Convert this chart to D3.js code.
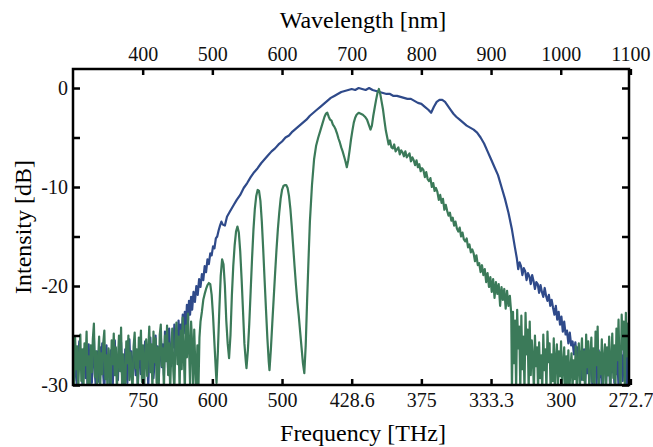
<!DOCTYPE html>
<html>
<head>
<meta charset="utf-8">
<script src="https://cdn.jsdelivr.net/npm/d3@7"></script>
<style>
  body { margin: 0; background: #fff; }
</style>
</head>
<body>
<div id="chart"></div>
<script>

var chartFont = "'Liberation Serif', serif";

// top axis ticks (wavelength, nm) and the matching frequency labels on the bottom
var wavelengthTicks = [400, 500, 600, 700, 800, 900, 1000, 1100];
var frequencyLabels = ["750", "600", "500", "428.6", "375", "333.3", "300", "272.7"];
var intensityTicks = [0, -5, -10, -15, -20, -25, -30];

// broad spectrum (blue), [wavelength nm, intensity dB]
var blueSpectrum = [
    [300,-27.2],[301.5,-29.6],[303,-26.0],[304.5,-28.8],[306,-30.5],[307.5,-27.4],[309,-25.6],[310.5,-28.2],
    [312,-26.7],[313.5,-30.0],[315,-27.8],[316.5,-26.3],[318,-29.3],[319.5,-27.0],[321,-30.5],[322.5,-25.9],
    [324,-28.5],[325.5,-26.8],[327,-29.8],[328.5,-27.5],[330,-25.1],[331.5,-28.9],[333,-30.4],[334.5,-26.6],
    [336,-28.0],[337.5,-29.7],[339,-26.2],[340.5,-27.9],[342,-25.8],[343.5,-29.1],[345,-30.5],[346.5,-27.2],
    [348,-26.0],[349.5,-28.6],[351,-27.1],[352.5,-29.9],[354,-26.5],[355.5,-28.3],[357,-30.2],[358.5,-26.9],
    [360,-25.5],[361.5,-28.7],[363,-27.3],[364.5,-29.5],[366,-26.1],[367.5,-28.4],[369,-25.7],[370.5,-29.2],
    [372,-27.6],[373.5,-30.5],[375,-26.4],[376.5,-28.1],[378,-29.8],[379.5,-27.0],[381,-25.4],[382.5,-28.5],
    [384,-26.6],[385.5,-29.4],[387,-27.7],[388.5,-25.9],[390,-29.0],[391.5,-26.8],[393,-30.3],[394.5,-27.4],
    [396,-25.3],[397.5,-28.9],[399,-26.2],[400.5,-29.6],[402,-27.5],[403.5,-25.6],[405,-28.3],[406.5,-26.9],
    [408,-30.1],[409.5,-27.1],[411,-25.2],[412.5,-28.6],[414,-26.4],[415.5,-29.3],[417,-27.8],[418.5,-25.0],
    [420,-28.0],[421.5,-26.1],[423,-29.5],[424.5,-26.7],[426,-24.8],[427.5,-28.2],[429,-25.9],[430.5,-29.0],
    [432,-24.6],[433.5,-27.3],[435,-25.5],[436.5,-28.4],[438,-24.3],[439.5,-26.9],[441,-28.1],[442.5,-24.9],
    [444,-26.2],[445.5,-23.9],[447,-27.0],[448.5,-24.5],[450,-25.8],[451.5,-23.5],[453,-26.4],[454.5,-23.9],
    [456,-25.2],[457.5,-22.9],[459,-24.8],[460.5,-22.6],[462,-24.1],[463.5,-21.9],[465,-23.6],[466.5,-21.5],
    [468,-22.9],[469.5,-21.1],[471,-22.4],[473,-20.6],[475,-21.6],[477,-20.0],[479,-20.9],[481,-19.3],
    [483,-20.1],[485,-18.8],[487,-19.4],[489,-18.0],[491,-18.6],[493,-17.3],[495,-17.8],[497,-16.7],
    [499,-16.9],[501,-16.0],[503,-16.2],[505,-15.2],[507,-15.0],[509,-14.4],[511,-13.9],[513,-13.5],
    [515,-13.8],[518,-13.9],[521,-13.0],[525,-12.5],[530,-11.9],[535,-11.3],[540,-10.8],[545,-10.1],
    [550,-9.6],[555,-9.0],[560,-8.5],[565,-8.1],[570,-7.6],[575,-7.2],[580,-6.8],[585,-6.4],
    [590,-6.1],[595,-5.7],[600,-5.4],[605,-5.0],[610,-4.8],[615,-4.4],[620,-4.1],[625,-3.8],
    [630,-3.5],[635,-3.2],[640,-2.8],[645,-2.5],[650,-2.2],[655,-1.9],[660,-1.6],[665,-1.3],
    [670,-1.0],[675,-0.8],[680,-0.6],[685,-0.4],[690,-0.3],[695,-0.2],[700,-0.1],[705,-0.2],
    [710,0.0],[715,-0.1],[720,-0.2],[725,0.0],[730,-0.2],[735,-0.3],[740,-0.4],[745,-0.5],
    [750,-0.6],[755,-0.6],[760,-0.8],[765,-0.8],[770,-0.9],[775,-1.0],[780,-1.1],[785,-1.1],
    [790,-1.3],[795,-1.5],[800,-1.6],[805,-1.9],[810,-2.2],[814,-2.5],[818,-1.9],[822,-1.4],
    [826,-1.2],[830,-1.2],[834,-1.4],[838,-1.8],[842,-2.2],[846,-2.6],[850,-2.9],[855,-3.2],
    [860,-3.5],[865,-3.8],[870,-4.0],[875,-4.2],[880,-4.5],[885,-5.0],[890,-5.6],[895,-6.4],
    [900,-7.2],[905,-8.0],[910,-8.8],[915,-10.0],[920,-11.2],[925,-12.6],[930,-14.3],[934,-16.0],
    [937,-17.2],[939,-18.3],[941,-17.6],[943,-18.0],[945,-18.9],[947,-18.2],[949,-18.5],[951,-19.4],
    [953,-18.7],[955,-19.0],[957,-19.8],[959,-18.9],[961,-19.5],[963,-20.3],[965,-19.6],[967,-19.8],
    [969,-20.7],[971,-19.9],[973,-20.6],[975,-21.1],[977,-20.2],[979,-21.0],[981,-21.5],[983,-20.9],
    [985,-22.0],[987,-21.4],[989,-22.2],[991,-22.9],[993,-22.0],[995,-23.4],[997,-22.6],[999,-23.9],
    [1001,-23.1],[1003,-24.6],[1005,-23.6],[1007,-24.9],[1009,-24.5],[1011,-25.8],[1013,-24.7],[1015,-26.0],
    [1017,-25.6],[1019,-26.9],[1021,-25.7],[1023,-27.4],[1024.5,-26.2],[1026,-28.3],[1027.5,-26.6],[1029,-29.5],
    [1030.5,-26.9],[1032,-28.1],[1033.5,-26.4],[1035,-30.2],[1036.5,-27.3],[1038,-28.8],[1039.5,-26.7],[1041,-29.7],
    [1042.5,-27.6],[1044,-26.3],[1045.5,-30.5],[1047,-27.2],[1048.5,-28.6],[1050,-26.8],[1051.5,-29.9],[1053,-27.5],
    [1054.5,-26.5],[1056,-29.2],[1057.5,-27.8],[1059,-30.4],[1060.5,-26.9],[1062,-28.4],[1063.5,-27.1],[1065,-30.1],
    [1066.5,-26.6],[1068,-29.0],[1069.5,-27.4],[1071,-30.5],[1072.5,-26.8],[1074,-28.7],[1075.5,-27.3],[1077,-29.8],
    [1078.5,-26.5],[1080,-28.9],[1081.5,-27.6],[1083,-30.3],[1084.5,-26.4],[1086,-28.2],[1087.5,-27.0],[1089,-29.6],
    [1090.5,-26.2],[1092,-28.5],[1093.5,-26.9],[1095,-29.9],[1096.5,-26.6],[1098,-28.4]
];

// narrower spectrum with fringes (green), [wavelength nm, intensity dB]
var greenSpectrum = [
    [300,-27.0],[301.5,-30.5],[303,-25.2],[304.5,-28.4],[306,-26.1],[307.5,-30.5],[309,-27.3],[310.5,-24.9],
    [312,-29.6],[313.5,-26.4],[315,-30.5],[316.5,-25.8],[318,-28.0],[319.5,-24.6],[321,-29.9],[322.5,-27.1],
    [324,-30.5],[325.5,-26.0],[327,-28.7],[328.5,-25.3],[330,-23.8],[331.5,-29.2],[333,-26.6],[334.5,-30.5],
    [336,-27.5],[337.5,-25.1],[339,-30.3],[340.5,-26.8],[342,-28.9],[343.5,-25.7],[345,-24.5],[346.5,-29.4],
    [348,-27.0],[349.5,-30.5],[351,-26.3],[352.5,-28.2],[354,-30.5],[355.5,-25.5],[357,-27.9],[358.5,-24.8],
    [360,-29.0],[361.5,-26.2],[363,-30.5],[364.5,-27.6],[366,-25.0],[367.5,-28.6],[369,-24.2],[370.5,-30.1],
    [372,-26.9],[373.5,-29.3],[375,-30.5],[376.5,-25.6],[378,-27.8],[379.5,-25.0],[381,-29.5],[382.5,-26.7],
    [384,-28.8],[385.5,-30.5],[387,-26.1],[388.5,-24.7],[390,-28.3],[391.5,-26.4],[393,-30.2],[394.5,-25.2],
    [396,-27.4],[397.5,-24.5],[399,-29.7],[400.5,-26.0],[402,-30.5],[403.5,-27.3],[405,-25.4],[406.5,-29.1],
    [408,-26.5],[409.5,-24.1],[411,-28.7],[412.5,-25.9],[414,-30.5],[415.5,-24.6],[417,-27.7],[418.5,-25.3],
    [420,-29.8],[421.5,-26.2],[423,-30.5],[424.5,-24.9],[426,-23.9],[427.5,-28.1],[429,-26.3],[430.5,-30.5],
    [432,-25.0],[433.5,-27.6],[435,-24.0],[436.5,-29.0],[438,-25.8],[439.5,-30.5],[441,-26.7],[442.5,-24.3],
    [444,-28.6],[445.5,-30.5],[447,-25.5],[448.5,-23.7],[450,-27.9],[451.5,-25.1],[453,-30.5],[454.5,-24.5],
    [456,-28.4],[457.5,-23.2],[459,-26.8],[460.5,-30.5],[462,-24.0],[463.5,-27.2],[465,-22.8],[466.5,-26.1],
    [468,-29.9],[469.5,-23.6],[471,-25.8],[472.5,-30.5],[474,-24.4],[475.5,-27.9],[477,-30.5],[478.5,-26.0],
    [480,-30.5],[481.5,-25.2],[483,-23.6],[485,-22.6],[487,-21.4],[489,-20.8],[491,-20.3],[493,-19.9],
    [495,-19.7],[497,-19.8],[499,-20.9],[501,-23.0],[503,-25.8],[505,-28.5],[506,-29.8],[508,-26.5],
    [510,-22.4],[512,-19.0],[514,-17.3],[516,-17.8],[518,-20.0],[520,-23.5],[522,-25.8],[524,-27.3],
    [526,-25.0],[528,-21.0],[530,-18.0],[532,-15.9],[534,-14.5],[536,-14.0],[538,-14.6],[540,-16.5],
    [542,-19.3],[544,-22.5],[546,-25.8],[548,-27.6],[549,-28.3],[551,-26.5],[553,-23.8],[555,-20.5],
    [557,-17.2],[559,-14.3],[561,-12.2],[563,-10.9],[565,-10.3],[567,-10.4],[569,-11.4],[571,-13.5],
    [573,-16.3],[575,-19.4],[577,-22.4],[579,-25.3],[581,-27.7],[582,-28.5],[584,-26.4],[586,-23.8],
    [588,-21.3],[590,-18.8],[592,-16.4],[594,-14.3],[596,-12.6],[598,-11.2],[600,-10.3],[602,-9.9],
    [604,-9.8],[606,-9.8],[608,-10.1],[610,-10.9],[612,-12.2],[614,-14.0],[616,-16.0],[618,-18.0],
    [620,-19.9],[622,-21.6],[624,-23.0],[626,-24.6],[628,-26.2],[630,-27.8],[632,-28.8],[634,-26.0],
    [636,-21.5],[638,-17.4],[640,-13.5],[643,-9.8],[646,-7.2],[649,-5.8],[652,-5.0],[655,-4.3],
    [658,-3.6],[661,-2.9],[663,-2.6],[665,-2.5],[667,-2.9],[669,-3.2],[671,-3.3],[673,-3.7],
    [675,-3.9],[677,-4.2],[679,-4.6],[681,-5.1],[683,-5.5],[685,-6.0],[687,-6.4],[689,-6.9],
    [691,-7.4],[693,-8.0],[695,-7.3],[697,-6.3],[699,-5.2],[701,-4.3],[703,-3.5],[705,-3.0],
    [707,-2.7],[710,-2.5],[713,-2.6],[716,-2.7],[719,-2.9],[722,-3.2],[725,-3.8],[727,-4.2],
    [729,-3.8],[731,-2.8],[733,-2.0],[735,-1.2],[737,-0.5],[739,-0.1],[741,-0.6],[743,-1.4],
    [745,-2.2],[747,-3.3],[749,-4.3],[751,-5.0],[753,-5.7],[755,-5.3],[757,-6.0],[759,-6.1],
    [761,-5.7],[763,-6.4],[765,-6.2],[767,-6.0],[769,-6.7],[771,-6.3],[773,-6.5],[775,-6.9],
    [777,-6.4],[779,-7.0],[781,-6.8],[783,-6.6],[785,-7.4],[787,-7.0],[789,-7.3],[791,-7.8],
    [793,-7.3],[795,-8.0],[797,-7.7],[799,-8.4],[801,-8.1],[803,-8.3],[805,-9.0],[807,-8.5],
    [809,-9.2],[811,-9.4],[813,-9.1],[815,-10.0],[817,-9.6],[819,-10.4],[821,-10.1],[823,-10.5],
    [825,-11.3],[827,-10.8],[829,-11.6],[831,-11.2],[833,-12.3],[835,-11.8],[837,-12.4],[839,-12.9],
    [841,-12.6],[843,-13.4],[845,-13.1],[847,-13.9],[849,-13.5],[851,-14.2],[853,-14.5],[855,-14.1],
    [857,-15.0],[859,-14.6],[861,-15.3],[863,-15.5],[865,-15.2],[867,-16.1],[869,-15.8],[871,-16.6],
    [873,-16.3],[875,-16.7],[877,-17.5],[879,-16.9],[881,-17.9],[883,-17.7],[885,-18.6],[887,-17.9],
    [889,-18.9],[891,-18.3],[893,-19.6],[895,-18.7],[897,-20.1],[899,-19.1],[901,-20.6],[903,-19.3],
    [905,-21.2],[907,-19.6],[909,-20.8],[911,-19.8],[913,-22.0],[915,-20.1],[917,-21.4],[919,-20.3],
    [921,-22.3],[923,-20.5],[925,-22.0],[927,-21.0],[929,-22.8],[930,-30.5],[931.5,-22.6],[933,-27.8],
    [934.5,-23.5],[936,-30.5],[937.5,-22.4],[939,-26.3],[940.5,-24.1],[942,-30.5],[943.5,-23.0],[945,-28.4],
    [946.5,-25.1],[948,-30.5],[949.5,-22.7],[951,-26.9],[952.5,-24.4],[954,-30.5],[955.5,-23.6],[957,-29.0],
    [958.5,-25.5],[960,-27.3],[961.5,-30.5],[963,-25.0],[964.5,-28.1],[966,-26.2],[967.5,-30.5],[969,-25.7],
    [970.5,-29.3],[972,-27.0],[973.5,-30.5],[975,-24.9],[976.5,-28.5],[978,-26.4],[979.5,-30.5],[981,-24.6],
    [982.5,-27.7],[984,-25.8],[985.5,-30.5],[987,-26.9],[988.5,-29.6],[990,-25.3],[991.5,-30.5],[993,-27.4],
    [994.5,-25.9],[996,-30.5],[997.5,-26.6],[999,-29.1],[1000.5,-25.6],[1002,-30.5],[1003.5,-27.9],[1005,-26.2],
    [1006.5,-30.5],[1008,-27.1],[1009.5,-29.8],[1011,-26.5],[1012.5,-30.5],[1014,-28.3],[1015.5,-26.8],[1017,-30.5],
    [1018.5,-27.5],[1020,-29.4],[1021.5,-26.1],[1023,-30.5],[1024.5,-28.0],[1026,-25.8],[1027.5,-30.5],[1029,-27.2],
    [1030.5,-25.3],[1032,-29.5],[1033.5,-26.6],[1035,-30.5],[1036.5,-24.9],[1038,-28.2],[1039.5,-25.6],[1041,-30.5],
    [1042.5,-27.0],[1044,-25.2],[1045.5,-29.7],[1047,-26.3],[1048.5,-30.5],[1050,-24.6],[1051.5,-28.0],[1053,-24.1],
    [1054.5,-30.5],[1056,-26.7],[1057.5,-28.9],[1059,-25.4],[1060.5,-30.5],[1062,-27.3],[1063.5,-25.9],[1065,-30.5],
    [1066.5,-26.2],[1068,-29.0],[1069.5,-25.1],[1071,-30.5],[1072.5,-27.6],[1074,-24.8],[1075.5,-29.3],[1077,-26.0],
    [1078.5,-30.5],[1080,-24.3],[1081.5,-27.5],[1083,-23.4],[1084.5,-28.8],[1086,-30.5],[1087.5,-22.9],[1089,-26.4],
    [1090.5,-23.6],[1092,-30.5],[1093.5,-22.7],[1095,-27.1],[1096.5,-23.8],[1098,-28.5]
];

var margin = {top: 69, right: 24, bottom: 62, left: 73},
    width = 653 - margin.left - margin.right,
    height = 447 - margin.top - margin.bottom;

var svg = d3.select("#chart")
    .append("svg")
    .attr("width", 653)
    .attr("height", 447)
    .append("g")
    .attr("transform", "translate(" + margin.left + "," + margin.top + ")");

var x = d3.scaleLinear()
    .domain([300, 1098])
    .range([0, width]);

var y = d3.scaleLinear()
    .domain([-30, 1.92])
    .range([height, 0]);

svg.append("clipPath")
    .attr("id", "plotClip")
    .append("rect")
    .attr("width", width)
    .attr("height", height);

var line = d3.line()
    .x(function(d) { return x(d[0]); })
    .y(function(d) { return y(d[1]); });

svg.append("path")
    .datum(blueSpectrum)
    .attr("clip-path", "url(#plotClip)")
    .attr("fill", "none")
    .attr("stroke", "#2f4a8a")
    .attr("stroke-width", 2.2)
    .attr("stroke-linejoin", "round")
    .attr("d", line);

svg.append("path")
    .datum(greenSpectrum)
    .attr("clip-path", "url(#plotClip)")
    .attr("fill", "none")
    .attr("stroke", "#3b7a59")
    .attr("stroke-width", 2.2)
    .attr("stroke-linejoin", "round")
    .attr("d", line);

// axes, ticks pointing inward
svg.append("g")
    .call(d3.axisTop(x).tickValues(wavelengthTicks).tickSize(-6).tickPadding(8)
        .tickFormat(d3.format("d")));

svg.append("g")
    .attr("transform", "translate(0," + height + ")")
    .call(d3.axisBottom(x).tickValues(wavelengthTicks).tickSize(-6).tickPadding(8)
        .tickFormat(function(d, i) { return frequencyLabels[i]; }));

svg.append("g")
    .call(d3.axisLeft(y).tickValues(intensityTicks).tickSize(-7).tickPadding(5)
        .tickFormat(function(d) { return d % 10 === 0 ? d : ""; }));

var rightAxis = svg.append("g")
    .attr("transform", "translate(" + width + ",0)")
    .call(d3.axisRight(y).tickValues(intensityTicks).tickSize(-7).tickFormat(""));

svg.selectAll(".domain").remove();
svg.selectAll(".tick line").attr("stroke", "#000").attr("stroke-width", 2.5);
svg.selectAll(".tick text")
    .style("font-family", chartFont)
    .style("font-size", "20px")
    .style("fill", "#111");
rightAxis.selectAll(".tick text").remove();

svg.append("rect")
    .attr("width", width)
    .attr("height", height)
    .attr("fill", "none")
    .attr("stroke", "#000")
    .attr("stroke-width", 2.5);

svg.append("text")
    .attr("x", 290)
    .attr("y", 28 - margin.top)
    .style("font-family", chartFont)
    .style("font-size", "24px")
    .style("text-anchor", "middle")
    .text("Wavelength [nm]");

svg.append("text")
    .attr("x", 290)
    .attr("y", 441 - margin.top)
    .style("font-family", chartFont)
    .style("font-size", "24px")
    .style("text-anchor", "middle")
    .text("Frequency [THz]");

svg.append("text")
    .attr("transform", "rotate(-90)")
    .attr("x", -(height / 2))
    .attr("y", 31 - margin.left)
    .style("font-family", chartFont)
    .style("font-size", "24px")
    .style("text-anchor", "middle")
    .text("Intensity [dB]");

</script>
</body>
</html>
